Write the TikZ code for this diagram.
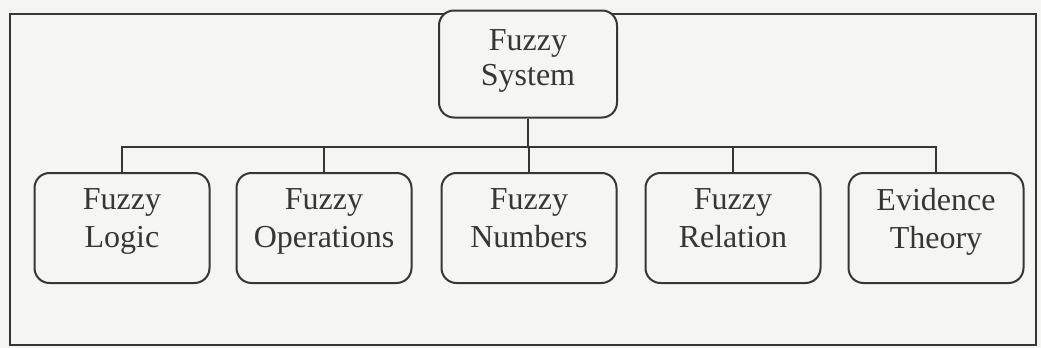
\documentclass[tikz,border=0pt]{standalone}
\usepackage{fontspec}
\setmainfont{Liberation Serif}

\definecolor{paper}{HTML}{F5F5F3}
\definecolor{ink}{HTML}{363636}

\tikzset{
  % #1 = depth under the last line, to lift the text a little
  topic/.style={draw=ink, line width=1pt, rounded corners=7.5pt, fill=paper,
    text=ink, align=center, inner sep=0pt,
    minimum width=87.5pt, minimum height=55pt,
    font=\fontsize{16}{19}\selectfont,
    execute at begin node={\rule{0pt}{13pt}},
    execute at end node={\rule[-#1]{0pt}{#1}}},
  topic/.default=10pt,
  link/.style={draw=ink, line width=1pt}
}

\begin{document}
\begin{tikzpicture}[x=0.5pt, y=-0.5pt]
  % page and frame
  \fill[paper] (0,0) rectangle (1041,348);
  \useasboundingbox (0,0) rectangle (1041,348);
  \draw[ink, line width=1pt] (10,14) rectangle (1036,345);

  \node[topic=6pt, minimum width=89pt, minimum height=53.5pt,
        font=\fontsize{16}{17.5}\selectfont] (sys) at (528,64) {Fuzzy\\System};

  \foreach \x/\nm/\txt in {122/logic/{Fuzzy\\Logic},
                           324/oper/{Fuzzy\\Operations},
                           529/num/{Fuzzy\\Numbers},
                           733/rel/{Fuzzy\\Relation},
                           936/evid/{Evidence\\Theory}}
  {
    \node[topic] (\nm) at (\x,228) {\txt};
    \path[link] (sys.south) -- ++(0,28) -| (\nm.north);
  }
\end{tikzpicture}
\end{document}
